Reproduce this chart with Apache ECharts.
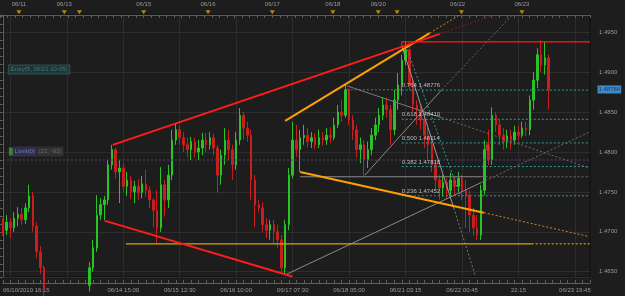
<!DOCTYPE html>
<html><head><meta charset="utf-8">
<script src="https://cdn.jsdelivr.net/npm/echarts@6/dist/echarts.min.js"></script>
<style>html,body{margin:0;padding:0;background:#1d1d1d;}#c{width:625px;height:296px;}</style>
</head><body><div id="c"></div>
<script>
// ---------------- data ----------------
const slotCount = 157;                       // time slots on the x axis
const slots = Array.from({length: slotCount}, (_, i) => String(i));

// candles: [open, close, low, high]
const candles = [
[1.4709,1.4702,1.4695,1.4717],[1.4702,1.4712,1.4696,1.4721],[1.4712,1.4705,1.4692,1.4717],[1.4705,1.4717,1.4700,1.4725],
[1.4717,1.4722,1.4707,1.4731],[1.4722,1.4715,1.4709,1.4730],[1.4715,1.4730,1.4710,1.4736],[1.4730,1.4745,1.4725,1.4759],
[1.4745,1.4707,1.4700,1.4750],[1.4707,1.4675,1.4667,1.4712],[1.4675,1.4655,1.4647,1.4682],[1.4655,1.4627,1.4617,1.4658],
[1.4627,1.4615,1.4602,1.4633],[1.4615,1.4602,1.4592,1.4620],[1.4602,1.4608,1.4595,1.4615],[1.4608,1.4596,1.4587,1.4612],
[1.4596,1.4590,1.4580,1.4602],[1.4590,1.4600,1.4583,1.4605],[1.4600,1.4592,1.4585,1.4607],[1.4592,1.4605,1.4587,1.4610],
[1.4605,1.4615,1.4600,1.4622],[1.4615,1.4627,1.4608,1.4635],[1.4627,1.4633,1.4620,1.4641],[1.4633,1.4655,1.4625,1.4662],
[1.4655,1.4680,1.4650,1.4690],[1.4680,1.4721,1.4675,1.4746],[1.4721,1.4734,1.4715,1.4742],[1.4734,1.4740,1.4715,1.4745],
[1.4740,1.4784,1.4734,1.4790],[1.4784,1.4803,1.4778,1.4809],[1.4803,1.4775,1.4767,1.4805],[1.4775,1.4780,1.4736,1.4790],
[1.4780,1.4757,1.4750,1.4786],[1.4757,1.4765,1.4745,1.4775],[1.4765,1.4750,1.4741,1.4770],[1.4750,1.4757,1.4736,1.4764],
[1.4757,1.4749,1.4740,1.4766],[1.4749,1.4760,1.4742,1.4770],[1.4760,1.4752,1.4744,1.4778],[1.4752,1.4740,1.4730,1.4757],
[1.4740,1.4727,1.4706,1.4742],[1.4727,1.4705,1.4686,1.4752],[1.4705,1.4759,1.4700,1.4781],[1.4759,1.4740,1.4719,1.4765],
[1.4740,1.4771,1.4730,1.4784],[1.4771,1.4815,1.4765,1.4828],[1.4815,1.4828,1.4809,1.4836],[1.4828,1.4818,1.4809,1.4833],
[1.4818,1.4809,1.4800,1.4825],[1.4809,1.4803,1.4793,1.4818],[1.4803,1.4813,1.4790,1.4819],[1.4813,1.4800,1.4793,1.4818],
[1.4800,1.4805,1.4790,1.4815],[1.4805,1.4815,1.4796,1.4824],[1.4815,1.4809,1.4800,1.4824],[1.4809,1.4818,1.4803,1.4825],
[1.4818,1.4805,1.4796,1.4823],[1.4805,1.4771,1.4749,1.4809],[1.4771,1.4796,1.4759,1.4803],[1.4796,1.4815,1.4784,1.4830],
[1.4815,1.4803,1.4790,1.4828],[1.4803,1.4784,1.4765,1.4809],[1.4784,1.4815,1.4778,1.4825],[1.4815,1.4846,1.4809,1.4855],
[1.4846,1.4830,1.4815,1.4850],[1.4830,1.4821,1.4813,1.4838],[1.4821,1.4765,1.4740,1.4828],[1.4765,1.4734,1.4706,1.4771],
[1.4734,1.4730,1.4724,1.4740],[1.4730,1.4709,1.4700,1.4737],[1.4709,1.4702,1.4692,1.4717],[1.4702,1.4709,1.4690,1.4715],
[1.4709,1.4700,1.4686,1.4715],[1.4700,1.4690,1.4680,1.4709],[1.4690,1.4655,1.4648,1.4696],[1.4655,1.4709,1.4646,1.4715],
[1.4709,1.4771,1.4702,1.4780],[1.4771,1.4815,1.4767,1.4838],[1.4815,1.4803,1.4794,1.4834],[1.4803,1.4818,1.4775,1.4828],
[1.4818,1.4821,1.4809,1.4834],[1.4821,1.4813,1.4806,1.4830],[1.4813,1.4818,1.4805,1.4825],[1.4818,1.4809,1.4803,1.4824],
[1.4809,1.4818,1.4805,1.4828],[1.4818,1.4815,1.4808,1.4825],[1.4815,1.4821,1.4809,1.4830],[1.4821,1.4818,1.4811,1.4831],
[1.4818,1.4834,1.4815,1.4843],[1.4834,1.4850,1.4830,1.4859],[1.4850,1.4846,1.4838,1.4865],[1.4846,1.4878,1.4843,1.4884],
[1.4878,1.4840,1.4834,1.4880],[1.4840,1.4828,1.4815,1.4846],[1.4828,1.4803,1.4793,1.4834],[1.4803,1.4809,1.4786,1.4818],
[1.4809,1.4790,1.4770,1.4815],[1.4790,1.4803,1.4780,1.4813],[1.4803,1.4821,1.4796,1.4830],[1.4821,1.4834,1.4815,1.4843],
[1.4834,1.4846,1.4825,1.4855],[1.4846,1.4859,1.4840,1.4869],[1.4859,1.4853,1.4843,1.4868],[1.4853,1.4828,1.4809,1.4859],
[1.4828,1.4865,1.4821,1.4878],[1.4865,1.4884,1.4853,1.4899],[1.4884,1.4915,1.4871,1.4922],[1.4915,1.4928,1.4909,1.4938],
[1.4928,1.4884,1.4878,1.4932],[1.4884,1.4859,1.4850,1.4890],[1.4859,1.4853,1.4834,1.4865],[1.4853,1.4840,1.4828,1.4859],
[1.4840,1.4821,1.4805,1.4846],[1.4821,1.4809,1.4790,1.4830],[1.4809,1.4784,1.4775,1.4815],[1.4784,1.4765,1.4752,1.4790],
[1.4765,1.4755,1.4740,1.4771],[1.4755,1.4762,1.4744,1.4771],[1.4762,1.4752,1.4742,1.4767],[1.4752,1.4765,1.4745,1.4774],
[1.4765,1.4757,1.4746,1.4770],[1.4757,1.4767,1.4750,1.4775],[1.4767,1.4752,1.4740,1.4771],[1.4752,1.4746,1.4705,1.4765],
[1.4746,1.4721,1.4700,1.4752],[1.4721,1.4705,1.4695,1.4730],[1.4705,1.4696,1.4690,1.4721],[1.4696,1.4752,1.4690,1.4759],
[1.4752,1.4803,1.4746,1.4815],[1.4803,1.4790,1.4784,1.4828],[1.4790,1.4846,1.4784,1.4856],[1.4846,1.4834,1.4825,1.4850],
[1.4834,1.4821,1.4809,1.4840],[1.4821,1.4813,1.4803,1.4830],[1.4813,1.4820,1.4805,1.4828],[1.4820,1.4815,1.4803,1.4828],
[1.4815,1.4825,1.4809,1.4833],[1.4825,1.4821,1.4814,1.4833],[1.4821,1.4830,1.4818,1.4838],[1.4830,1.4828,1.4820,1.4838],
[1.4828,1.4865,1.4821,1.4871],[1.4865,1.4890,1.4853,1.4900],[1.4890,1.4922,1.4880,1.4930],[1.4922,1.4909,1.4900,1.4940],
[1.4909,1.4918,1.4897,1.4938],[1.4918,1.48784,1.4853,1.4922]
];
const lastPrice = 1.48784;

// price axis
const priceMin = 1.46434, priceMax = 1.49717;

// bottom time axis
const gridSlots = [2,17,32,47,62,77,92,107,122,137,152];
const bottomLabelSlots = [2,32,47,62,77,92,107,122,137,152];
const bottomLabels = ['06/10/2010 16:15','06/14 15:00','06/15 12:30','06/16 10:00','06/17 07:30',
                      '06/18 05:00','06/21 03:15','06/22 00:45','22:15','06/23 19:45'];
// top event strip
const topLabelSlots = [5,17,38,55,72,88,100,121,138];
const topLabels = ['06/11','06/13','06/15','06/16','06/17','06/18','06/20','06/22','06/23'];
const eventSlots = [5,17,21,38,55,72,88,100,105,122,138];

// drawing objects: [slot, price] end points
const redUpper      = [[29.2,1.4809],[116.1,1.4948]];
const redUpperExt   = [[116.1,1.4948],[129.9,1.4971]];
const redLower      = [[27.0,1.4714],[76.9,1.4644]];
const swingHigh     = [[106.0,1.4932],[106.0,1.4938],[156,1.4938]];
const orangeUpper   = [[75.0,1.4839],[113.4,1.4949]];
const orangeUpperExt= [[113.4,1.4949],[121.1,1.4971]];
const orangeLower   = [[79.0,1.4775],[127.8,1.4724]];
const orangeLowerExt= [[127.8,1.4724],[155.8,1.4694]];
const supportLevel  = 1.4685, supportSlots = [32.7,140.5,156];
const baseLevel     = 1.4769, baseSlots = [79.0,127.2,156];
const grayDown      = [[91.4,1.4883],[116.6,1.4843]];
const grayDownExt   = [[116.6,1.4843],[155.8,1.4780]];
const grayUp        = [[96.2,1.4771],[116.6,1.4878]];
const grayUpExt     = [[116.6,1.4878],[135.2,1.4971]];
const grayRise      = [[75.0,1.4646],[127.2,1.4762]];
const grayRiseExt   = [[127.2,1.4762],[155.8,1.4825]];
const tealDrop      = [[107.1,1.4933],[121.4,1.4747]];
const grayDrop      = [[106.0,1.4933],[119.8,1.4730]];
const grayDropExt   = [[119.8,1.4730],[125.6,1.4644]];
const highLevel     = 1.4878, highSlots = [91.4,106.0];

// fibonacci retracement
const fibRatios = ['0.764','0.618','0.500','0.382','0.236'];
const fibPrices = [1.48776,1.48410,1.48114,1.47818,1.47452];
const fibSlots  = [106,156];

// order lines
const limitPrice = 1.4790, limitText = 'Limit(0)', limitInfo = '(22, -92)';
const entryPrice = 1.4894, entryText = 'Entry(5, 06/21 10:05)';
const tradeMark = [128.8, 1.4806];

// ---------------- chart ----------------
const FONT = 'Liberation Sans';
const AX = '#5e5e5e', GRID = '#2d2d2d', TXT = '#9a9a9a';

function seg(pts, color, width, dotted) {
  return {type:'line', xAxisIndex:1, yAxisIndex:0, data:pts, showSymbol:false, silent:true, z:4,
          lineStyle:{color:color, width:width, type: dotted ? [2,2] : 'solid'}, animation:false};
}
const series = [];
series.push({type:'candlestick', xAxisIndex:0, yAxisIndex:0, data:candles, barWidth:2, clip:true, z:2,
  itemStyle:{color:'#27c327', color0:'#c81e1e', borderColor:'#27c327', borderColor0:'#c81e1e', borderWidth:1}});
// order line (limit) and hidden entry
series.push(seg([[0,limitPrice],[156,limitPrice]], '#4a4a72', 1, true));
// fib levels
fibPrices.forEach(p => series.push(seg([[fibSlots[0],p],[fibSlots[1],p]], '#2a9c9c', 1, true)));
series.push(seg([[highSlots[0],highLevel],[highSlots[1],highLevel]], '#6a6a6a', 1, true));
// gray helper lines
series.push(seg([[baseSlots[0],baseLevel],[baseSlots[1],baseLevel]], '#8a8a8a', 1, false));
series.push(seg([[baseSlots[1],baseLevel],[baseSlots[2],baseLevel]], '#6a6a6a', 1, true));
series.push(seg(grayDown, '#7a7a7a', 1, false));
series.push(seg(grayDownExt, '#6a6a6a', 1, true));
series.push(seg(grayUp, '#8a8a8a', 1, false));
series.push(seg(grayUpExt, '#6a6a6a', 1, true));
series.push(seg(grayRise, '#8a8a8a', 1, false));
series.push(seg(grayRiseExt, '#6a6a6a', 1, true));
series.push(seg(grayDrop, '#9a9a9a', 1, false));
series.push(seg(grayDropExt, '#7a7a7a', 1, true));
series.push(seg(tealDrop, '#2a9c9c', 1, true));
// support
series.push(seg([[supportSlots[0],supportLevel],[supportSlots[1],supportLevel]], '#d9a300', 1.2, false));
series.push(seg([[supportSlots[1],supportLevel],[supportSlots[2],supportLevel]], '#d9a300', 1.2, true));
// trend channels
series.push(seg(orangeLower, '#ffa200', 2, false));
series.push(seg(orangeLowerExt, '#c98a1a', 1, true));
series.push(seg(orangeUpper, '#ffa200', 2, false));
series.push(seg(orangeUpperExt, '#c98a1a', 1, true));
series.push(seg(redUpper, '#ff1c1c', 2, false));
series.push(seg(redUpperExt, '#8c1c1c', 1, true));
series.push(seg(redLower, '#ff1c1c', 2, false));
series.push(seg(swingHigh, '#ff1c1c', 1.2, false));

// text labels
const labelPts = fibPrices.map((p, k) => ({value:[fibSlots[0], p],
  label:{show:true, position:'top', align:'left', distance:1, color:'#dcdcdc', fontSize:6, fontFamily:FONT,
         formatter: fibRatios[k] + ' ' + p.toFixed(5)}}));
labelPts.push({value:[1.6, limitPrice], label:{show:true, position:'top', align:'left', distance:3,
  formatter:'{sq| }{a|' + limitText + '}{b|' + limitInfo + '}',
  rich:{sq:{width:4, height:8, backgroundColor:'#3f9c3f'},
        a:{backgroundColor:'#33335a', color:'#8c8cc8', fontSize:6, fontFamily:FONT, padding:[1,2,1,2], height:8},
        b:{backgroundColor:'#363636', color:'#7a7a7a', fontSize:6, fontFamily:FONT, padding:[1,2,1,2], height:8}}}});
labelPts.push({value:[1.6, entryPrice], label:{show:true, position:'top', align:'left', distance:3,
  formatter: entryText, backgroundColor:'#1e3a3a', borderColor:'#2f5a5a', borderWidth:1,
  color:'#4f8f8f', fontSize:6, fontFamily:FONT, padding:[1,2,1,2]}});
labelPts.push({value:[156, lastPrice], label:{show:true, position:'right', distance:7,
  formatter: lastPrice.toFixed(5), backgroundColor:'#4aa6f2', color:'#062a55', fontSize:6, fontFamily:FONT, padding:[1,1,1,1]}});
series.push({type:'scatter', xAxisIndex:1, yAxisIndex:0, data:labelPts, symbolSize:1, z:6, silent:true,
  itemStyle:{color:'rgba(0,0,0,0)'}, clip:false});
series.push({type:'scatter', xAxisIndex:1, yAxisIndex:0, data:[tradeMark], symbol:'roundRect', symbolSize:[4,6], z:7,
  itemStyle:{color:'#ff3030'}});
// top event markers
series.push({type:'scatter', xAxisIndex:2, yAxisIndex:1, data: eventSlots.map(s => [s, 0.45]),
  symbol:'triangle', symbolRotate:180, symbolSize:[5,4], itemStyle:{color:'#e0a400'}, z:5});

const option = {
  backgroundColor:'#1d1d1d',
  animation:false,
  textStyle:{fontFamily:FONT},
  grid:[
    {left:0, right:35, top:15, bottom:19, show:true, borderColor:'#0c0c0c', borderWidth:1, backgroundColor:'#1d1d1d'},
    {left:0, right:35, top:9, height:6}
  ],
  xAxis:[
    {type:'category', gridIndex:0, data:slots, position:'bottom', offset:6, boundaryGap:false,
     axisLine:{lineStyle:{color:AX}},
     axisTick:{show:true, inside:true, length:3, interval:(i)=> i % 2 === 0, lineStyle:{color:AX}},
     axisLabel:{fontSize:6, color:TXT, margin:4, fontFamily:FONT,
       interval:(i)=> bottomLabelSlots.includes(i),
       formatter:(v, i)=> { const k = bottomLabelSlots.indexOf(i); if (k < 0) return ''; return k === 0 ? '{f|' + bottomLabels[k] + '}' : bottomLabels[k]; },
       rich:{f:{padding:[0,0,0,32], fontSize:6, color:TXT, fontFamily:FONT}}},
     splitLine:{show:true, interval:(i)=> gridSlots.includes(i), lineStyle:{color:GRID}}},
    {type:'value', gridIndex:0, position:'top', min:0, max:slotCount-1, show:false},
    {type:'category', gridIndex:1, data:slots, position:'top', boundaryGap:false,
     axisLine:{lineStyle:{color:AX}},
     axisTick:{show:true, inside:true, length:3, interval:(i)=> i % 2 === 0, lineStyle:{color:AX}},
     axisLabel:{fontSize:6, color:TXT, margin:2, fontFamily:FONT,
       interval:(i)=> topLabelSlots.includes(i),
       formatter:(v, i)=> { const k = topLabelSlots.indexOf(i); return k < 0 ? '' : topLabels[k]; }},
     splitLine:{show:false}}
  ],
  yAxis:[
    {type:'value', gridIndex:0, position:'right', offset:6, min:priceMin, max:priceMax, splitNumber:7,
     axisLine:{show:true, lineStyle:{color:AX}},
     axisTick:{show:true, inside:true, length:6, lineStyle:{color:AX}},
     minorTick:{show:true, splitNumber:5, length:3, lineStyle:{color:AX}},
     axisLabel:{fontSize:6, color:TXT, margin:3, fontFamily:FONT, showMinLabel:false, showMaxLabel:false,
       formatter:(v)=> v.toFixed(4)},
     splitLine:{show:true, lineStyle:{color:GRID}}},
    {type:'value', gridIndex:1, min:0, max:1, show:false}
  ],
  series: series
};
const chart = echarts.init(document.getElementById('c'), null, {renderer:'canvas'});
chart.setOption(option);
</script></body></html>
